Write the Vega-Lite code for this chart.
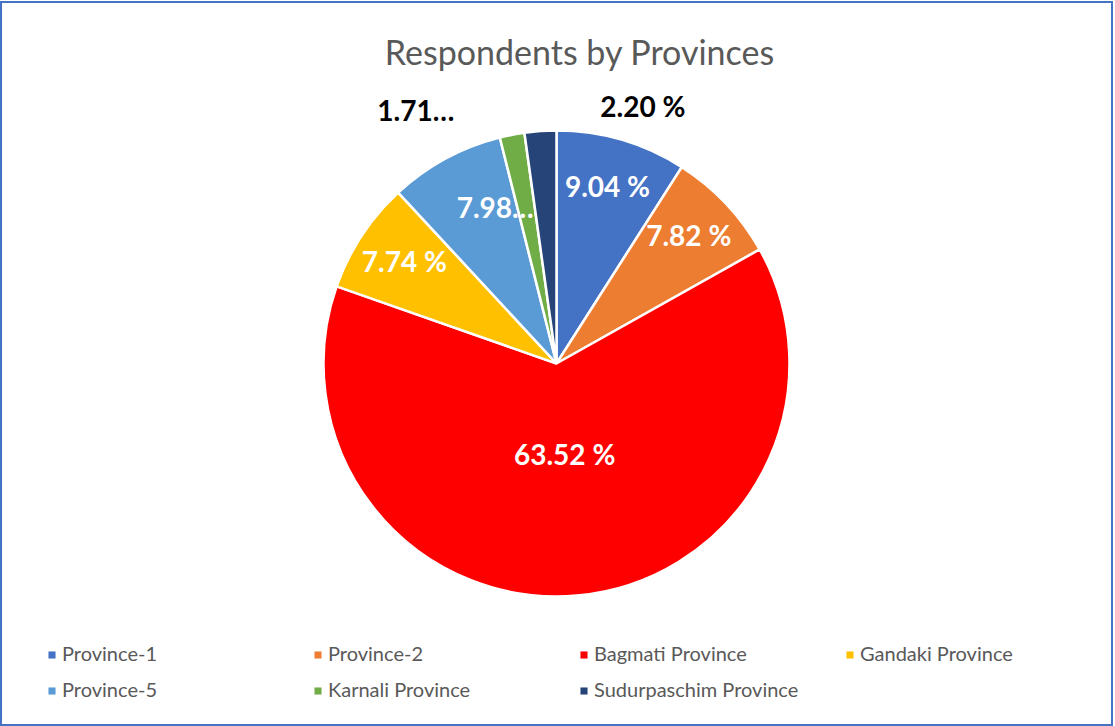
{
  "$schema": "https://vega.github.io/schema/vega-lite/v6.json",
  "autosize": "none",
  "width": 1111,
  "height": 723,
  "padding": {"left": 1, "top": 2, "right": 3, "bottom": 1},
  "background": "white",
  "view": {"stroke": "#4472C4", "strokeWidth": 2, "fill": "white"},
  "config": {
    "view": {"stroke": "#4472C4", "strokeWidth": 2},
    "font": "Lato"
  },
  "title": {
    "text": "Respondents by Provinces",
    "fontSize": 34,
    "font": "Lato",
    "fontWeight": "normal",
    "color": "#595959",
    "anchor": "middle",
    "frame": "group",
    "offset": -70,
    "dx": 23
  },
  "data": {
    "values": [
      {"idx": 1, "province": "Province-1", "value": 9.04, "label": "9.04 %"},
      {"idx": 2, "province": "Province-2", "value": 7.82, "label": "7.82 %"},
      {"idx": 3, "province": "Bagmati Province", "value": 63.52, "label": "63.52 %"},
      {"idx": 4, "province": "Gandaki Province", "value": 7.74, "label": "7.74 %"},
      {"idx": 5, "province": "Province-5", "value": 7.98, "label": "7.98…"},
      {"idx": 6, "province": "Karnali Province", "value": 1.71, "label": "1.71…"},
      {"idx": 7, "province": "Sudurpaschim Province", "value": 2.20, "label": "2.20 %"}
    ]
  },
  "encoding": {
    "theta": {"field": "value", "type": "quantitative", "stack": true},
    "order": {"field": "idx", "type": "quantitative"},
    "color": {
      "field": "province",
      "type": "nominal",
      "scale": {
        "domain": ["Province-1", "Province-2", "Bagmati Province", "Gandaki Province", "Province-5", "Karnali Province", "Sudurpaschim Province"],
        "range": ["#4472C4", "#ED7D31", "#FF0000", "#FFC000", "#5B9BD5", "#70AD47", "#264478"]
      },
      "legend": {
        "title": null,
        "orient": "none",
        "legendX": 41,
        "legendY": 643,
        "direction": "horizontal",
        "columns": 4,
        "gridAlign": "all",
        "columnPadding": 41,
        "rowPadding": 16,
        "symbolType": "square",
        "symbolSize": 50,
        "symbolStrokeWidth": 0,
        "labelFontSize": 20,
        "labelFont": "Lato",
        "labelColor": "#595959",
        "labelOffset": 0,
        "labelLimit": 400
      }
    }
  },
  "layer": [
    {
      "mark": {"type": "arc", "outerRadius": 233, "stroke": "white", "strokeWidth": 2.5}
    },
    {
      "mark": {"type": "text", "radius": 182, "fontSize": 28, "fontWeight": "bold", "font": "Lato"},
      "encoding": {
        "color": {"value": "white"},
        "text": {
          "condition": {"test": "indexof(['Province-1','Province-2','Gandaki Province'], datum.province) >= 0", "field": "label"},
          "value": ""
        }
      }
    },
    {
      "mark": {"type": "text", "radius": 175, "dx": 22, "fontSize": 28, "fontWeight": "bold", "font": "Lato"},
      "encoding": {
        "color": {"value": "white"},
        "text": {
          "condition": {"test": "datum.province === 'Province-5'", "field": "label"},
          "value": ""
        }
      }
    },
    {
      "mark": {"type": "text", "radius": 94, "fontSize": 28, "fontWeight": "bold", "font": "Lato"},
      "encoding": {
        "color": {"value": "white"},
        "text": {
          "condition": {"test": "datum.province === 'Bagmati Province'", "field": "label"},
          "value": ""
        }
      }
    },
    {
      "mark": {"type": "text", "radius": 255, "dx": -92, "fontSize": 28, "fontWeight": "bold", "font": "Lato"},
      "encoding": {
        "color": {"value": "black"},
        "text": {
          "condition": {"test": "datum.province === 'Karnali Province'", "field": "label"},
          "value": ""
        }
      }
    },
    {
      "mark": {"type": "text", "radius": 255, "dx": 104, "fontSize": 28, "fontWeight": "bold", "font": "Lato"},
      "encoding": {
        "color": {"value": "black"},
        "text": {
          "condition": {"test": "datum.province === 'Sudurpaschim Province'", "field": "label"},
          "value": ""
        }
      }
    }
  ]
}
